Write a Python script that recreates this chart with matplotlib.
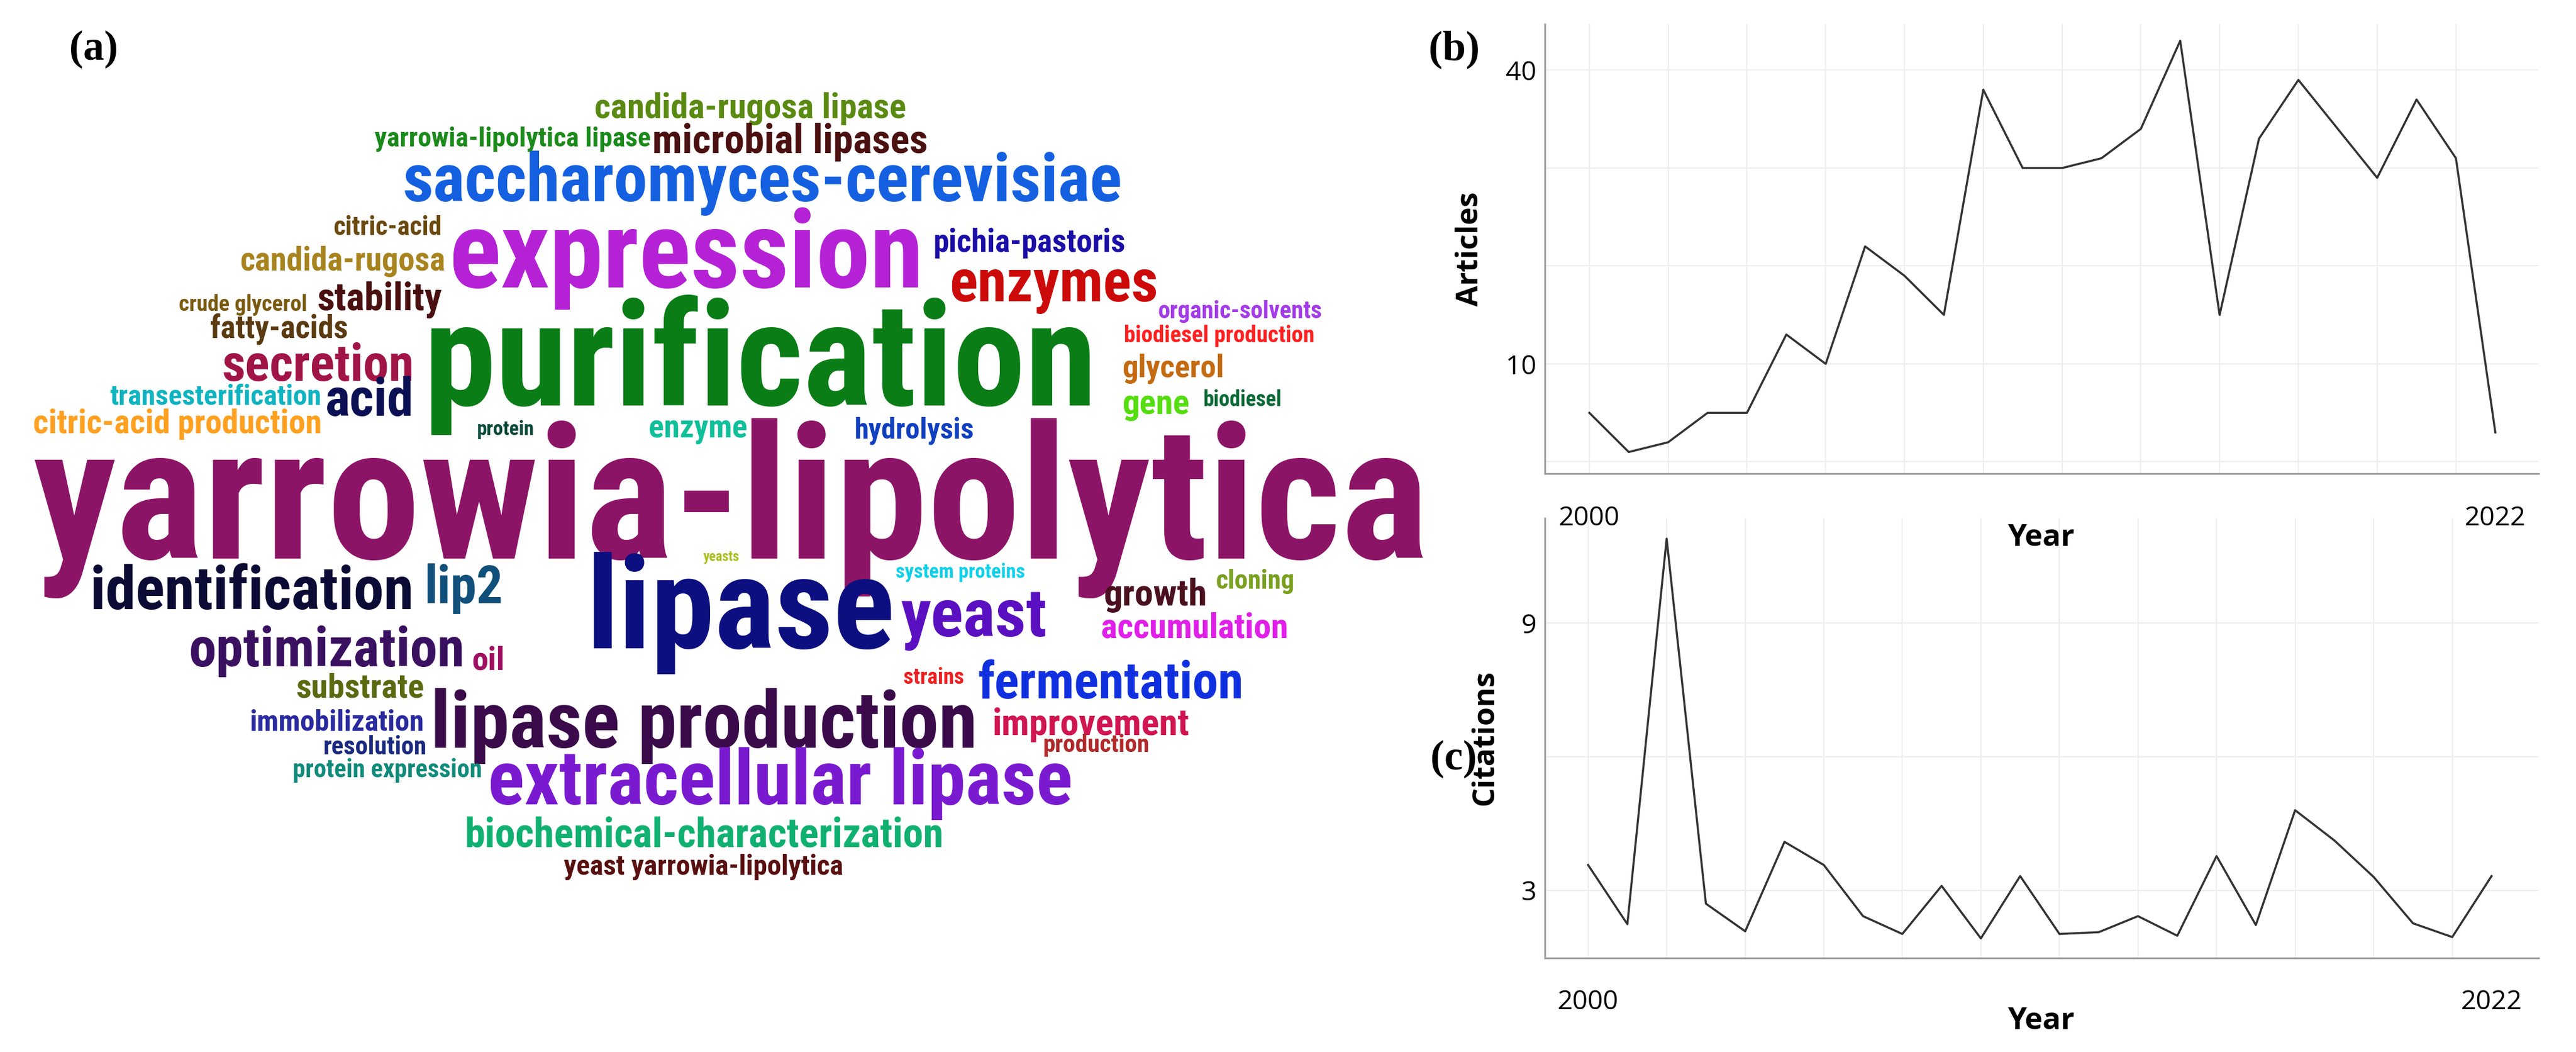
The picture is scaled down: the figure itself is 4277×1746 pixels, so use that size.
import matplotlib
matplotlib.use("Agg")
import matplotlib.pyplot as plt
from matplotlib import font_manager as fm

# ---------------- data ----------------
years_idx = list(range(24))
articles = [5, 1, 2, 5, 5, 13, 10, 22, 19, 15, 38, 30, 30, 31, 34, 43, 15, 33, 39, 34, 29, 37, 31, 3]
citations = [3.57, 2.24, 10.9, 2.7, 2.08, 4.09, 3.57, 2.42, 2.02, 3.1, 1.92, 3.32,
             2.02, 2.06, 2.42, 1.98, 3.77, 2.22, 4.8, 4.12, 3.3, 2.26, 1.95, 3.32]
xtick_labels = ["2000", "2022"]

words = ["yarrowia-lipolytica", "purification", "expression", "lipase", "saccharomyces-cerevisiae",
         "yarrowia-lipolytica lipase", "candida-rugosa lipase", "microbial lipases", "pichia-pastoris",
         "enzymes", "organic-solvents", "biodiesel production", "glycerol", "gene", "biodiesel",
         "citric-acid", "candida-rugosa", "crude glycerol", "stability", "fatty-acids", "secretion",
         "acid", "transesterification", "citric-acid production", "protein", "enzyme", "hydrolysis",
         "identification", "lip2", "yeasts", "system proteins", "yeast", "growth", "cloning",
         "accumulation", "optimization", "oil", "substrate", "strains", "fermentation",
         "lipase production", "immobilization", "improvement", "resolution", "production",
         "protein expression", "extracellular lipase", "biochemical-characterization",
         "yeast yarrowia-lipolytica"]
word_colors = ["#8c1466", "#0a7d16", "#b522d6", "#0c0f80", "#1460e0",
               "#1b8a1b", "#5a8a12", "#4b1010", "#1b0ea8",
               "#cc0a0a", "#a33be8", "#ff2020", "#c46a10", "#55dd10", "#0a6a35",
               "#6b4a10", "#a88420", "#7a5a10", "#4a1010", "#5a3a10", "#a01545",
               "#0b1055", "#10b3c0", "#ffa020", "#0a4a3a", "#10c09a", "#1040c0",
               "#0b0b35", "#10507a", "#a8c020", "#10d0e8", "#5a10c0", "#4a1020", "#7aa020",
               "#e020e8", "#3a1060", "#a01060", "#5a6a10", "#ee2020", "#1030e0",
               "#3a0a4a", "#2a2aa0", "#d01550", "#1a2a80", "#b02a2a",
               "#108a7a", "#7a1ad0", "#10b070", "#5a1010"]
# layout boxes (display px of a 1568-wide view): x_left, x_right, y_center
word_boxes = [(20, 870, 297), (258, 668, 213), (273, 562, 150), (357, 545, 365),
              (245, 683, 107), (228, 396, 83), (362, 552, 64), (397, 565, 84),
              (568, 685, 146), (578, 705, 170), (705, 805, 188), (684, 800, 203),
              (683, 745, 222), (683, 724, 244), (732, 780, 242),
              (203, 269, 137), (146, 271, 157), (109, 187, 184), (193, 269, 180),
              (128, 212, 198), (135, 252, 220), (198, 252, 241), (67, 196, 240),
              (20, 196, 256), (290, 325, 260), (395, 455, 259), (520, 593, 260),
              (55, 252, 357), (258, 306, 355), (428, 450, 338), (545, 624, 347),
              (548, 637, 372), (672, 735, 360), (740, 788, 352), (670, 784, 380),
              (115, 283, 393), (287, 307, 400), (180, 258, 417), (550, 587, 411),
              (595, 757, 413), (262, 595, 437), (152, 258, 438), (604, 724, 439),
              (197, 260, 453), (635, 700, 452), (178, 293, 467), (297, 653, 472),
              (283, 575, 506), (343, 513, 526)]

W, H = 4277, 1746
S = W / 1568.0

def pick_font(cands):
    for c in cands:
        try:
            fm.findfont(fm.FontProperties(family=c), fallback_to_default=False)
            return c
        except Exception:
            pass
    return "DejaVu Sans"

cloud_font = pick_font(["Roboto Condensed", "Liberation Sans Narrow", "Open Sans Condensed",
                        "DejaVu Sans Condensed", "Roboto", "DejaVu Sans"])
tick_font = pick_font(["Open Sans", "Lato", "DejaVu Sans"])

fig = plt.figure(figsize=(W / 100, H / 100), dpi=100)
fig.patch.set_facecolor("white")

# ---------------- word cloud ----------------
axc = fig.add_axes([0, 0, 1, 1])
axc.set_xlim(0, W)
axc.set_ylim(H, 0)
axc.axis("off")
renderer = fig.canvas.get_renderer()
for w, c, (x0, x1, yc) in zip(words, word_colors, word_boxes):
    t = axc.text(x0 * S, yc * S, w, color=c, fontsize=100, fontweight="bold",
                 family=cloud_font, ha="left", va="center_baseline")
    bb = t.get_window_extent(renderer=renderer)
    target = (x1 - x0) * S
    t.set_fontsize(100 * target / bb.width)

# panel labels
for lab, x, y in [("(a)", 57, 30), ("(b)", 885, 30), ("(c)", 885, 462)]:
    fig.text(x * S / W, 1 - y * S / H, lab, fontsize=50, fontweight="bold",
             family="Liberation Serif", ha="center", va="center")

# ---------------- line panels ----------------
def style(ax, yticks, ylab_ticks, ylabel):
    ax.set_facecolor("none")
    for s in ["top", "right"]:
        ax.spines[s].set_visible(False)
    for s in ["left", "bottom"]:
        ax.spines[s].set_color("#999999")
        ax.spines[s].set_linewidth(2)
    ax.set_yticks(yticks)
    ax.set_yticklabels([str(v) if v in ylab_ticks else "" for v in yticks],
                       fontsize=32, family=tick_font)
    ax.set_xticks(list(range(0, 24, 2)))
    ax.set_xticklabels([])
    ax.tick_params(length=0, pad=10)
    ax.grid(True, color="#eeeeee", linewidth=1.5)
    ax.text(0, -0.07, xtick_labels[0], transform=ax.get_xaxis_transform(),
            ha="center", va="top", fontsize=32, family=tick_font)
    ax.text(23, -0.07, xtick_labels[1], transform=ax.get_xaxis_transform(),
            ha="center", va="top", fontsize=32, family=tick_font)
    ax.text(0.5, -0.11, "Year", transform=ax.transAxes, ha="center", va="top",
            fontsize=36, fontweight="bold", family=tick_font)
    ax.set_ylabel(ylabel, fontsize=36, fontweight="bold", family=tick_font, labelpad=25)

l, r = 2565 / W, 4215 / W
axb = fig.add_axes([l, 1 - 786 / H, r - l, (786 - 40) / H])
axb.plot(years_idx, articles, color="#333333", linewidth=2.5)
axb.set_xlim(-1.13, 24.1)
axb.set_ylim(-1.2, 44.7)
style(axb, [0, 10, 20, 30, 40], [10, 40], "Articles")

axcit = fig.add_axes([l, 1 - 1590 / H, r - l, (1590 - 860) / H])
axcit.plot(years_idx, citations, color="#333333", linewidth=2.5)
axcit.set_xlim(-1.1, 24.2)
axcit.set_ylim(1.48, 11.36)
style(axcit, [3, 6, 9], [3, 9], "Citations")

fig.savefig("out.png", dpi=100, facecolor="white")
